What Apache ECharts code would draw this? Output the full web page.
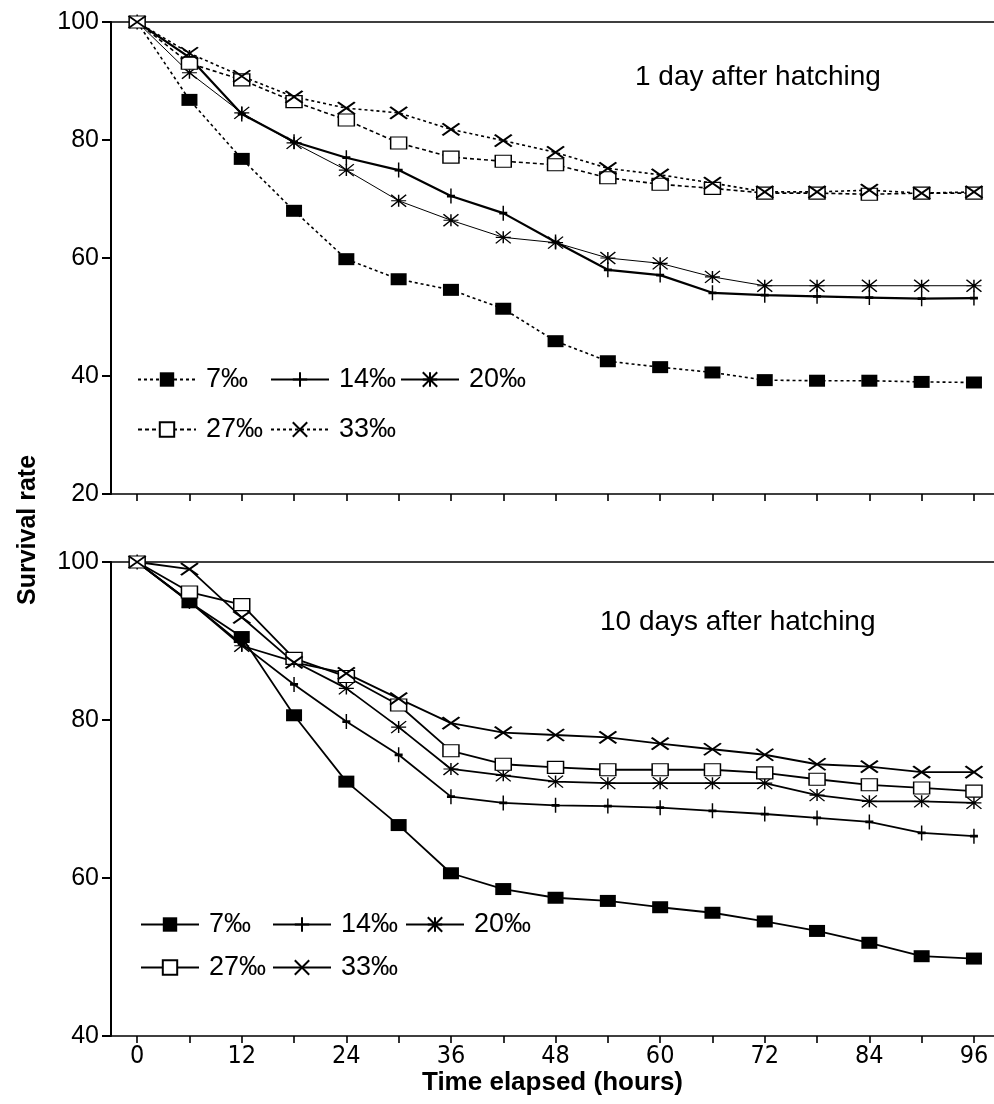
<!DOCTYPE html>
<html>
<head>
<meta charset="utf-8">
<script src="https://cdn.jsdelivr.net/npm/echarts@6/dist/echarts.min.js"></script>
<style>
html,body{margin:0;padding:0;background:#fff;}
#c{width:994px;height:1104px;}
</style>
</head>
<body>
<div id="c"></div>
<script>
// ---------------- data ----------------
const times = [0,6,12,18,24,30,36,42,48,54,60,66,72,78,84,90,96];
const xTickValues = [0,6,12,18,24,30,36,42,48,54,60,66,72,78,84,90,96];
const xLabelValues = [0,12,24,36,48,60,72,84,96];
const salinities = ['7‰','14‰','20‰','27‰','33‰'];

// 1 day after hatching
const day1_7  = [100,86.8,76.8,68.0,59.8,56.4,54.6,51.4,45.9,42.5,41.5,40.6,39.3,39.2,39.2,39.0,38.9];
const day1_14 = [100,94.0,84.4,79.7,77.0,74.9,70.5,67.6,62.7,58.0,57.1,54.1,53.7,53.5,53.3,53.1,53.2];
const day1_20 = [100,91.4,84.6,79.5,74.9,69.7,66.4,63.5,62.6,60.0,59.1,56.8,55.3,55.3,55.3,55.3,55.3];
const day1_27 = [100,93.0,90.2,86.5,83.4,79.5,77.1,76.4,75.8,73.6,72.5,71.8,71.0,71.0,70.8,71.0,71.0];
const day1_33 = [100,94.7,90.8,87.3,85.4,84.6,81.8,79.9,77.9,75.2,74.1,72.7,71.2,71.2,71.5,71.0,71.2];

// 10 days after hatching
const day10_7  = [100,94.9,90.5,80.6,72.2,66.7,60.6,58.6,57.5,57.1,56.3,55.6,54.5,53.3,51.8,50.1,49.8];
const day10_14 = [100,95.0,89.6,84.5,79.8,75.6,70.3,69.5,69.2,69.1,68.9,68.5,68.1,67.6,67.1,65.7,65.3];
const day10_20 = [100,95.0,89.4,87.4,84.0,79.1,73.8,73.0,72.2,72.0,72.0,72.0,72.0,70.5,69.7,69.7,69.5];
const day10_27 = [100,96.2,94.6,87.8,85.5,81.9,76.1,74.4,74.0,73.7,73.7,73.7,73.3,72.5,71.8,71.4,71.0];
const day10_33 = [100,99.1,93.0,87.3,85.9,82.7,79.6,78.4,78.1,77.8,77.0,76.3,75.6,74.4,74.1,73.4,73.4];

const panelTitles = ['1 day after hatching','10 days after hatching'];
const yTitle = 'Survival rate';
const xTitle = 'Time elapsed (hours)';

// ---------------- helpers ----------------
const pairs = (vals) => times.map((t,i) => [t, vals[i]]);
const BLACK = '#000';
const FONT = '"Liberation Sans", Arial, Helvetica, sans-serif';
const NARROW = '"Liberation Sans Narrow", "DejaVu Sans Condensed", "Liberation Sans", Arial, sans-serif';

const SYM = {
  '7‰':  {symbol:'rect', size:[16,12], fill:BLACK, bw:0},
  '14‰': {symbol:'path://M5,0L5,10M0,5L10,5', size:[8,15], fill:'none', bw:2},
  '20‰': {symbol:'path://M0,0L10,10M10,0L0,10M5,0L5,10M0,5L10,5', size:[15,12], fill:'none', bw:1.3},
  '27‰': {symbol:'rect', size:[16,12], fill:'#fff', bw:1.3},
  '33‰': {symbol:'path://M0,0L10,10M10,0L0,10', size:[17,12], fill:'none', bw:2}
};
const LINE_TOP = {
  '7‰':  {type:[3,3], width:1.6},
  '14‰': {type:'solid', width:2.2},
  '20‰': {type:'solid', width:1},
  '27‰': {type:[4,3], width:1.6},
  '33‰': {type:[3,3], width:1.6}
};

function makeSeries(panel, name, vals, lineStyle) {
  const s = SYM[name];
  return {
    type:'line',
    name: name + '|' + panel,
    xAxisIndex: panel, yAxisIndex: panel,
    data: pairs(vals),
    symbol: s.symbol, symbolSize: s.size, showSymbol:true,
    itemStyle:{color: s.fill === 'none' ? BLACK : s.fill, borderColor:BLACK, borderWidth:s.bw, opacity:1},
    lineStyle:{color:BLACK, width:lineStyle.width, type:lineStyle.type},
    emphasis:{disabled:true},
    animation:false,
    z: 3
  };
}

const topVals = [day1_7, day1_14, day1_20, day1_27, day1_33];
const botVals = [day10_7, day10_14, day10_20, day10_27, day10_33];
const series = [];
salinities.forEach((n,i) => series.push(makeSeries(0, n, topVals[i], LINE_TOP[n])));
salinities.forEach((n,i) => series.push(makeSeries(1, n, botVals[i], {type:'solid', width:1.8})));

// legend placement (layout only)
const legendPos = [
  // top panel
  {panel:0, idx:0, left:137, top:366},
  {panel:0, idx:1, left:270, top:366},
  {panel:0, idx:2, left:400, top:366},
  {panel:0, idx:3, left:137, top:416},
  {panel:0, idx:4, left:270, top:416},
  // bottom panel
  {panel:1, idx:0, left:140, top:911},
  {panel:1, idx:1, left:272, top:911},
  {panel:1, idx:2, left:405, top:911},
  {panel:1, idx:3, left:140, top:954},
  {panel:1, idx:4, left:272, top:954}
];
const legends = legendPos.map(p => ({
  data:[salinities[p.idx] + '|' + p.panel],
  left:p.left, top:p.top, padding:0,
  itemWidth:58, itemHeight:18,
  selectedMode:false,
  formatter: (name) => name.split('|')[0],
  textStyle:{fontFamily:FONT, fontSize:27, color:BLACK, padding:[0,0,0,5]}
}));

function xBottom(gridIndex, showLabels) {
  return {
    type:'value', gridIndex, position:'bottom', min:-3, max:98.3,
    axisLine:{show:true, onZero:false, lineStyle:{color:BLACK, width:1.6}},
    axisTick:{show:true, inside:false, length:7, customValues:xTickValues, lineStyle:{color:BLACK, width:1.6}},
    axisLabel:{show:showLabels, customValues:xLabelValues, margin:8, color:BLACK, fontFamily:NARROW, fontSize:25},
    splitLine:{show:false},
    name: showLabels ? xTitle : '',
    nameLocation:'middle', nameGap:32,
    nameTextStyle:{fontFamily:FONT, fontSize:26, fontWeight:'bold', color:BLACK}
  };
}
function xTop(gridIndex) {
  return {
    type:'value', gridIndex, position:'top', min:-3, max:98.3,
    axisLine:{show:true, onZero:false, lineStyle:{color:BLACK, width:1.6}},
    axisTick:{show:false}, axisLabel:{show:false}, splitLine:{show:false}
  };
}
function yAxis(gridIndex, min) {
  return {
    type:'value', gridIndex, min, max:100, interval:20,
    axisLine:{show:true, onZero:false, lineStyle:{color:BLACK, width:2}},
    axisTick:{show:true, length:9, lineStyle:{color:BLACK, width:2}},
    axisLabel:{color:BLACK, fontFamily:FONT, fontSize:25, margin:12},
    splitLine:{show:false}
  };
}

const option = {
  backgroundColor:'#fff',
  animation:false,
  grid:[
    {left:111, right:0, top:22, height:472},
    {left:111, right:0, top:562, height:474}
  ],
  xAxis:[xBottom(0,false), xBottom(1,true), xTop(0), xTop(1)],
  yAxis:[yAxis(0,20), yAxis(1,40)],
  title:[
    {text:panelTitles[0], left:635, top:63, padding:0,
     textStyle:{fontFamily:FONT, fontSize:28, fontWeight:'normal', color:BLACK}},
    {text:panelTitles[1], left:600, top:608, padding:0,
     textStyle:{fontFamily:FONT, fontSize:28, fontWeight:'normal', color:BLACK}}
  ],
  legend: legends,
  graphic:[{
    type:'text', x:28, y:530, rotation:Math.PI/2,
    style:{text:yTitle, fontFamily:FONT, fontSize:25, fontWeight:'bold', fill:BLACK,
           align:'center', verticalAlign:'middle'}
  }],
  series
};

const chart = echarts.init(document.getElementById('c'), null, {renderer:'canvas'});
chart.setOption(option);
</script>
</body>
</html>
